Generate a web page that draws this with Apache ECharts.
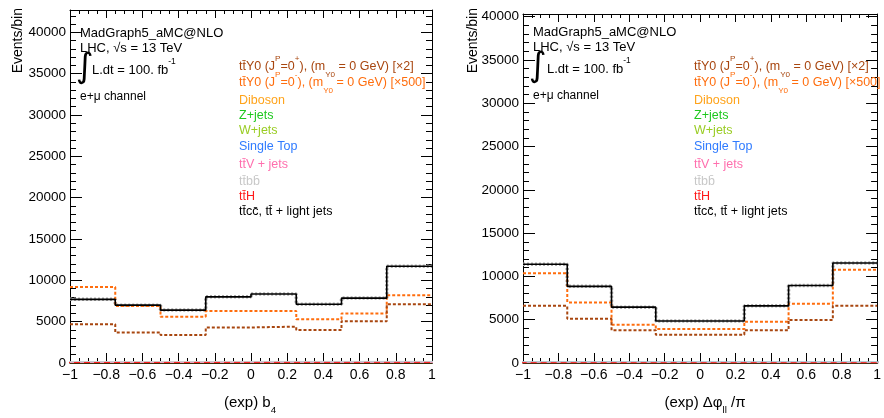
<!DOCTYPE html>
<html><head><meta charset="utf-8">
<script src="https://cdn.jsdelivr.net/npm/echarts@6/dist/echarts.min.js"></script>
<style>html,body{margin:0;padding:0;background:#fff}#c{width:884px;height:418px}</style>
</head><body><div id="c"></div>
<script>
// ---------- data ----------
const binEdges = [-1, -0.75, -0.5, -0.25, 0, 0.25, 0.5, 0.75, 1];
const yTickValues = [0, 5000, 10000, 15000, 20000, 25000, 30000, 35000, 40000];

// left panel: (exp) b4
const b4_ttlight = [7700, 7000, 6400, 8000, 8350, 7100, 7850, 11700];
const b4_Y0plus  = [4700, 3700, 3400, 4300, 4400, 4000, 5050, 7100];
const b4_Y0minus = [9200, 6900, 5600, 6300, 6300, 5300, 6000, 8200];
const b4_diboson = [15, 15, 15, 15, 15, 15, 15, 15];
const b4_zjets   = [110, 100, 95, 105, 105, 95, 100, 130];
const b4_wjets   = [20, 20, 20, 20, 20, 20, 20, 20];
const b4_stop    = [140, 120, 110, 130, 135, 115, 120, 260];
const b4_ttv     = [60, 55, 50, 65, 70, 55, 60, 90];
const b4_ttbb    = [180, 160, 150, 190, 200, 160, 170, 200];
const b4_tth     = [60, 55, 50, 70, 75, 55, 60, 90];

// right panel: (exp) dphi_ll / pi
const dp_ttlight = [11400, 8850, 6450, 4850, 4850, 6600, 8950, 11550];
const dp_Y0plus  = [6600, 5100, 3770, 3270, 3270, 3770, 4960, 6600];
const dp_Y0minus = [10350, 7000, 4420, 3920, 3920, 4770, 6850, 10770];
const dp_diboson = [15, 15, 15, 15, 15, 15, 15, 15];
const dp_zjets   = [110, 95, 85, 80, 80, 85, 95, 110];
const dp_wjets   = [20, 20, 20, 20, 20, 20, 20, 20];
const dp_stop    = [150, 130, 110, 100, 100, 110, 130, 150];
const dp_ttv     = [60, 50, 40, 40, 40, 40, 50, 60];
const dp_ttbb    = [250, 200, 150, 120, 120, 150, 200, 250];
const dp_tth     = [60, 50, 40, 35, 35, 40, 50, 60];

// ---------- styling ----------
const FF = '"Liberation Sans", Arial, Helvetica, sans-serif';
const C = {
  plus: '#a8460f', minus: '#ff6d0d', diboson: '#ffa31a', zjets: '#1ec81e',
  wjets: '#99cc22', stop: '#2f7bff', ttv: '#ff6fae', ttbb: '#c8c8c8', tth: '#ff1a1a'
};
const fmtX = v => { const r = Math.round(v * 100) / 100; return r < 0 ? '\u2212' + Math.abs(r) : String(r); };

function xAxes(gi) {
  const base = {type: 'value', gridIndex: gi, min: -1, max: 1, interval: 0.2,
    splitLine: {show: false}, minorSplitLine: {show: false}};
  return [
    Object.assign({}, base, {position: 'bottom',
      axisLine: {show: true, onZero: false, lineStyle: {color: '#000', width: 1}},
      axisTick: {show: true, inside: true, length: 10, lineStyle: {color: '#000'}},
      minorTick: {show: true, splitNumber: 4, length: 5, lineStyle: {color: '#000'}},
      axisLabel: {show: true, color: '#000', fontSize: 14, fontFamily: FF, margin: 5, formatter: fmtX}}),
    Object.assign({}, base, {position: 'top',
      axisLine: {show: true, onZero: false, lineStyle: {color: '#000', width: 1}},
      axisTick: {show: true, inside: true, length: 8, lineStyle: {color: '#000'}},
      minorTick: {show: true, splitNumber: 4, length: 4, lineStyle: {color: '#000'}},
      axisLabel: {show: false}})
  ];
}
function yAxes(gi, ymax) {
  const base = {type: 'value', gridIndex: gi, min: 0, max: ymax, splitLine: {show: false}};
  const lab = {show: true, color: '#000', fontSize: 13.5, fontFamily: FF, margin: 4,
    formatter: v => (yTickValues.indexOf(v) >= 0 ? String(v) : '')};
  return [
    Object.assign({}, base, {position: 'left', interval: 5000,
      axisLine: {show: true, onZero: false, lineStyle: {color: '#000'}},
      axisTick: {show: true, inside: true, length: 12, lineStyle: {color: '#000'}},
      axisLabel: lab}),
    Object.assign({}, base, {position: 'left', interval: 1000,
      axisLine: {show: false, onZero: false}, axisTick: {show: true, inside: true, length: 6, lineStyle: {color: '#000'}},
      axisLabel: {show: false}}),
    Object.assign({}, base, {position: 'right', interval: 5000,
      axisLine: {show: true, onZero: false, lineStyle: {color: '#000'}},
      axisTick: {show: true, inside: true, length: 11, lineStyle: {color: '#000'}},
      axisLabel: {show: false}}),
    Object.assign({}, base, {position: 'right', interval: 1000,
      axisLine: {show: false, onZero: false}, axisTick: {show: true, inside: true, length: 6, lineStyle: {color: '#000'}},
      axisLabel: {show: false}})
  ];
}

function stepData(vals) { return binEdges.map((e, i) => [e, vals[Math.min(i, vals.length - 1)]]); }
function line(vals, xi, yi, color, type, width, z) {
  return {type: 'line', xAxisIndex: xi, yAxisIndex: yi, step: 'end', symbol: 'none', z: z,
    data: stepData(vals), lineStyle: {color: color, type: type, width: width}, silent: true};
}
function stackLayer(vals, xi, yi, color, fill, stackName, type) {
  return {type: 'line', xAxisIndex: xi, yAxisIndex: yi, step: 'end', symbol: 'none', z: 2,
    stack: stackName, data: stepData(vals), areaStyle: {color: fill, opacity: 1},
    lineStyle: {color: color, width: 1, type: type || 'solid'}, silent: true};
}
function panelSeries(xi, yi, d, sn) {
  return [
    stackLayer(d.diboson, xi, yi, C.diboson, C.diboson, sn),
    stackLayer(d.zjets, xi, yi, C.zjets, '#2fb52f', sn),
    stackLayer(d.wjets, xi, yi, '#6b6b1a', C.wjets, sn),
    stackLayer(d.stop, xi, yi, C.stop, '#a9b8e8', sn),
    stackLayer(d.ttv, xi, yi, '#f2a0c0', '#e8c8d8', sn),
    stackLayer(d.ttbb, xi, yi, '#cfcfcf', '#dddddd', sn),
    stackLayer(d.tth, xi, yi, C.tth, '#eed6d6', sn, [6, 4]),
    line(d.ttlight, xi, yi, '#aaaaaa', [2, 2], 3.5, 3),
    line(d.ttlight, xi, yi, '#000', 'solid', 1.6, 5),
    line(d.Y0minus, xi, yi, C.minus, [3, 2], 2, 4),
    line(d.Y0plus, xi, yi, C.plus, [3, 2], 2, 4)
  ];
}

// ---------- text helpers ----------
function rich(size, color) {
  return {
    n: {fontSize: size, fontFamily: FF, fill: color, lineHeight: 24},
    sup: {fontSize: size * 0.65, fontFamily: FF, fill: color, lineHeight: 16, verticalAlign: 'top'},
    sub: {fontSize: size * 0.65, fontFamily: FF, fill: color, lineHeight: 10, verticalAlign: 'bottom'}
  };
}
function txt(x, y, text, color, size, opts) {
  opts = opts || {};
  return {type: 'text', x: x, y: y, z: 100, rotation: opts.rot || 0, silent: true,
    style: {text: text, fill: color, font: size + 'px ' + FF, align: opts.align || 'left',
      verticalAlign: 'middle', rich: rich(size, color)}};
}
const legendItems = [
  ['{n|tt\u0304Y0 (J}{sup|P}{n|=0}{sup|+}{n|), (m}{sub|Y0}{n| = 0 GeV) [\u00d72]}', C.plus],
  ['{n|tt\u0304Y0 (J}{sup|P}{n|=0}{sup|-}{n|), (m}{sub|Y0}{n| = 0 GeV) [\u00d7500]}', C.minus],
  ['{n|Diboson}', C.diboson],
  ['{n|Z+jets}', C.zjets],
  ['{n|W+jets}', C.wjets],
  ['{n|Single Top}', C.stop],
  ['{n|tt\u0304V + jets}', C.ttv],
  ['{n|tt\u0304bb\u0304}', C.ttbb],
  ['{n|tt\u0304H}', C.tth],
  ['{n|tt\u0304cc\u0304, tt\u0304 + light jets}', '#000']
];
const legendY = [67, 83, 101, 116, 131, 147, 165, 182, 197, 212];

function panelText(x0, yMad, integX, ldtX, legX, ylabX, xTitle, xTitleX) {
  const g = [
    txt(x0, yMad, '{n|MadGraph5_aMC@NLO}', '#000', 13),
    txt(x0, yMad + 15, '{n|LHC, \u221as = 13 TeV}', '#000', 13),
    {type: 'text', x: integX, y: yMad + 35, z: 100, silent: true,
      style: {text: '\u222b', fill: '#000', font: '34px "DejaVu Sans", sans-serif', align: 'left', verticalAlign: 'middle'}},
    txt(ldtX, yMad + 37, '{n|L.dt = 100. fb}{sup|-1}', '#000', 13),
    txt(x0, yMad + 64, '{n|e+\u03bc channel}', '#000', 12),
    txt(ylabX, 8, '{n|Events/bin}', '#000', 14, {rot: Math.PI / 2, align: 'right'}),
    txt(xTitleX, 403, xTitle, '#000', 15, {align: 'center'})
  ];
  legendItems.forEach((it, i) => g.push(txt(legX, legendY[i], it[0], it[1], 12.5)));
  return g;
}

const dB4 = {ttlight: b4_ttlight, Y0plus: b4_Y0plus, Y0minus: b4_Y0minus, diboson: b4_diboson,
  zjets: b4_zjets, wjets: b4_wjets, stop: b4_stop, ttv: b4_ttv, ttbb: b4_ttbb, tth: b4_tth};
const dDP = {ttlight: dp_ttlight, Y0plus: dp_Y0plus, Y0minus: dp_Y0minus, diboson: dp_diboson,
  zjets: dp_zjets, wjets: dp_wjets, stop: dp_stop, ttv: dp_ttv, ttbb: dp_ttbb, tth: dp_tth};

const chart = echarts.init(document.getElementById('c'), null, {renderer: 'canvas'});
chart.setOption({
  animation: false,
  backgroundColor: '#fff',
  grid: [
    {left: 70, top: 10, width: 362, height: 353},
    {left: 523, top: 14, width: 364, height: 349}
  ],
  xAxis: xAxes(0).concat(xAxes(1)),
  yAxis: yAxes(0, 42700).concat(yAxes(1, 40300)),
  series: panelSeries(0, 0, dB4, 'bgL').concat(panelSeries(2, 4, dDP, 'bgR')),
  graphic: panelText(80, 33, 76, 92, 239, 18, '{n|(exp) b}{sub|4}', 250)
    .concat(panelText(533, 32, 529, 547, 694, 473, '{n|(exp) \u0394\u03c6}{sub|ll}{n| /\u03c0}', 705))
});
</script>
</body></html>
